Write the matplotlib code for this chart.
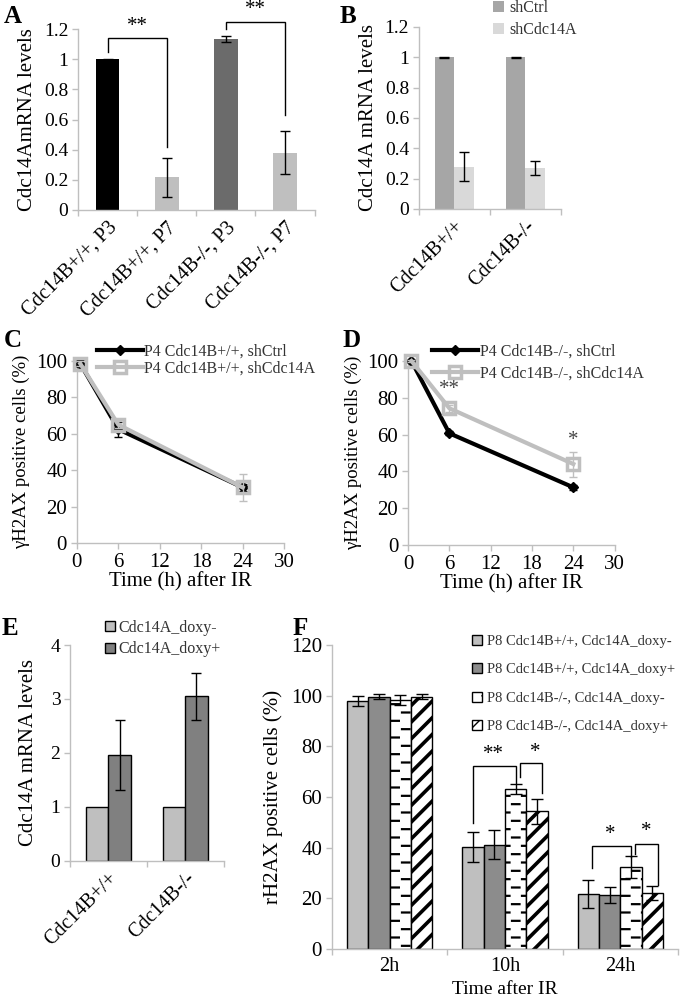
import warnings
warnings.filterwarnings('ignore')
import numpy as np
import matplotlib
matplotlib.use('Agg')
import matplotlib.pyplot as plt
import matplotlib.hatch as mhatch
from matplotlib.path import Path
from matplotlib.lines import Line2D

plt.rcParams['font.family'] = ['Liberation Serif', 'DejaVu Serif']
plt.rcParams['hatch.color'] = 'black'

# ---------------- data ----------------
a_cats = ['Cdc14B+/+, P3', 'Cdc14B+/+, P7', 'Cdc14B-/-, P3', 'Cdc14B-/-, P7']
a_vals = [1.0, 0.217, 1.131, 0.38]
a_err = [0.003, 0.13, 0.02, 0.143]
a_colors = ['#000000', '#bfbfbf', '#6b6b6b', '#bfbfbf']

b_cats = ['Cdc14B+/+', 'Cdc14B-/-']
b_shctrl = [1.0, 1.0]
b_shctrl_err = [0.002, 0.002]
b_shcdc = [0.28, 0.269]
b_shcdc_err = [0.096, 0.046]

c_time = [0.5, 6, 24]
c_ctrl = [98.5, 62.5, 30.5]
c_ctrl_err = [2.0, 4.0, 2.0]
c_sh = [98.5, 65.0, 30.5]
c_sh_err = [1.5, 2.0, 7.3]

d_time = [0.5, 6, 24]
d_ctrl = [100, 60.7, 31.3]
d_ctrl_err = [0.5, 1.0, 1.5]
d_sh = [100, 74.3, 44.0]
d_sh_err = [0.5, 2.0, 6.8]

e_cats = ['Cdc14B+/+', 'Cdc14B-/-']
e_minus = [1.0, 1.0]
e_plus = [1.96, 3.05]
e_plus_err = [0.645, 0.43]

f_cats = ['2h', '10h', '24h']
f_labels = ['P8 Cdc14B+/+, Cdc14A_doxy-', 'P8 Cdc14B+/+, Cdc14A_doxy+',
            'P8 Cdc14B-/-, Cdc14A_doxy-', 'P8 Cdc14B-/-, Cdc14A_doxy+']
f_s1 = [97.8, 40.2, 21.7]
f_s1_err = [2.0, 6.0, 5.4]
f_s2 = [99.6, 41.1, 21.2]
f_s2_err = [1.1, 5.7, 3.2]
f_s3 = [98.2, 63.1, 32.3]
f_s3_err = [2.0, 2.1, 4.3]
f_s4 = [99.6, 54.3, 22.1]
f_s4_err = [1.0, 4.9, 2.8]


# ---------------- custom dash hatch ----------------
class DashHatch(mhatch.HatchPatternBase):
    def __init__(self, hatch, density):
        self.segs = []
        if hatch.count('d'):
            rows, per_row = 12, 5
            for r in range(rows):
                y = (r + 0.5) / rows
                off = 0.0 if r % 2 == 0 else 0.5 / per_row
                for k in range(per_row):
                    x0 = k / per_row + off + 0.02
                    self.segs.append((x0, y, x0 + 0.075, y))
        self.num_vertices = len(self.segs) * 2

    def set_vertices_and_codes(self, vertices, codes):
        for i, (x0, y0, x1, y1) in enumerate(self.segs):
            vertices[2 * i] = (x0, y0)
            vertices[2 * i + 1] = (x1, y1)
            codes[2 * i] = Path.MOVETO
            codes[2 * i + 1] = Path.LINETO


mhatch._hatch_types.append(DashHatch)

SP = '#bfbfbf'


def style(ax, fs):
    for s in ['top', 'right']:
        ax.spines[s].set_visible(False)
    for s in ['left', 'bottom']:
        ax.spines[s].set_color(SP)
        ax.spines[s].set_linewidth(1.0)
    ax.tick_params(which='major', direction='out', length=4, width=1,
                   color=SP, labelsize=fs, pad=3)


def cat_axis(ax, cats, fs, rot, pad=6):
    n = len(cats)
    ax.set_xlim(-0.5, n - 0.5)
    ax.set_xticks(np.arange(n + 1) - 0.5)
    ax.set_xticklabels([''] * (n + 1))
    ax.set_xticks(np.arange(n), minor=True)
    if rot:
        ax.set_xticklabels(cats, minor=True, rotation=rot, ha='right',
                           rotation_mode='anchor', fontsize=fs)
    else:
        ax.set_xticklabels(cats, minor=True, fontsize=fs)
    ax.tick_params(axis='x', which='minor', length=0, pad=pad)


def bracket(ax, x0, y0, ytop, x1, y1, lw=1.0):
    ax.plot([x0, x0, x1, x1], [y0, ytop, ytop, y1], color='black', lw=lw,
            clip_on=False, solid_joinstyle='miter')


def fmt(v):
    return f'{v:g}'


fig = plt.figure(figsize=(6.8, 9.98), dpi=100)

# ---------------- A ----------------
axA = fig.add_axes([0.1147, 0.7896, 0.348, 0.1813])
style(axA, 14)
xa = np.arange(len(a_cats))
axA.bar(xa, a_vals, width=0.4, color=a_colors, zorder=2)
axA.errorbar(xa, a_vals, yerr=a_err, fmt='none', ecolor='black', elinewidth=1,
             capsize=3.5, capthick=1, zorder=3)
cat_axis(axA, a_cats, 14.5, 45)
axA.set_ylim(0, 1.2)
axA.set_yticks(np.arange(0, 1.21, 0.2))
axA.set_yticklabels([fmt(round(v, 1)) for v in np.arange(0, 1.21, 0.2)])
axA.set_ylabel('Cdc14AmRNA levels', fontsize=15, labelpad=5)
bracket(axA, 0, 1.05, 1.14, 1, 0.42)
bracket(axA, 2, 1.2, 1.25, 3, 0.63)
axA.text(0.5, 1.155, '**', ha='center', va='bottom', fontsize=15, clip_on=False)
axA.text(2.5, 1.265, '**', ha='center', va='bottom', fontsize=15, clip_on=False)

# ---------------- B ----------------
axB = fig.add_axes([0.616, 0.7906, 0.209, 0.1824])
style(axB, 14)
xb = np.arange(len(b_cats))
w = 0.28
axB.bar(xb - w / 2, b_shctrl, width=w, color='#a6a6a6', label='shCtrl', zorder=2)
axB.bar(xb + w / 2, b_shcdc, width=w, color='#d9d9d9', label='shCdc14A', zorder=2)
axB.errorbar(xb - w / 2, b_shctrl, yerr=b_shctrl_err, fmt='none', ecolor='black',
             elinewidth=1, capsize=3.5, zorder=3)
axB.errorbar(xb + w / 2, b_shcdc, yerr=b_shcdc_err, fmt='none', ecolor='black',
             elinewidth=1, capsize=3.5, zorder=3)
cat_axis(axB, b_cats, 14.5, 45)
axB.set_ylim(0, 1.2)
axB.set_yticks(np.arange(0, 1.21, 0.2))
axB.set_yticklabels([fmt(round(v, 1)) for v in np.arange(0, 1.21, 0.2)])
axB.set_ylabel('Cdc14A mRNA levels', fontsize=15, labelpad=5)
axB.legend(loc='upper left', bbox_to_anchor=(0.725, 1.0), bbox_transform=fig.transFigure,
           frameon=False, fontsize=11.5, handlelength=0.7, handleheight=0.7,
           handletextpad=0.3, labelspacing=0.4, borderpad=0, borderaxespad=0,
           labelcolor='#333333')


# ---------------- C & D ----------------
def line_panel(rect, t, ctrl, ctrl_err, sh, sh_err, labels, leg_anchor, lspace):
    ax = fig.add_axes(rect)
    style(ax, 15)
    ax.errorbar(t, ctrl, yerr=ctrl_err, fmt='none', ecolor='black', elinewidth=1,
                capsize=3, zorder=3, clip_on=False)
    ax.plot(t, ctrl, color='black', lw=3, marker='D', ms=5.5, mfc='black', mec='black',
            zorder=3, clip_on=False)
    ax.errorbar(t, sh, yerr=sh_err, fmt='none', ecolor='#bfbfbf', elinewidth=1,
                capsize=3, zorder=4, clip_on=False)
    ax.plot(t, sh, color='#bfbfbf', lw=3, marker='s', ms=9, mfc='none', mec='#bfbfbf',
            mew=2.5, zorder=4, clip_on=False)
    ax.set_xlim(0, 30)
    ax.set_ylim(0, 100)
    ax.set_xticks(np.arange(0, 31, 6))
    ax.set_yticks(np.arange(0, 101, 20))
    ax.set_xlabel('Time (h) after IR', fontsize=15, labelpad=0)
    ax.set_ylabel('γH2AX positive cells (%)', fontsize=13.5, labelpad=4)
    handles = [Line2D([], [], color='black', lw=3, marker='D', ms=5.5),
               Line2D([], [], color='#bfbfbf', lw=3, marker='s', ms=8, mfc='none',
                      mec='#bfbfbf', mew=2.5)]
    ax.legend(handles, labels, loc='upper left', bbox_to_anchor=leg_anchor,
              bbox_transform=fig.transFigure, frameon=False, fontsize=11.5,
              handlelength=2.9, handletextpad=0.1, labelspacing=lspace, borderpad=0,
              borderaxespad=0, labelcolor='#333333')
    return ax


axC = line_panel([0.113, 0.4559, 0.305, 0.1824], c_time, c_ctrl, c_ctrl_err, c_sh, c_sh_err,
                 ['P4 Cdc14B+/+, shCtrl', 'P4 Cdc14B+/+, shCdc14A'], (0.142, 0.656), 0.08)
axD = line_panel([0.6, 0.4539, 0.304, 0.1844], d_time, d_ctrl, d_ctrl_err, d_sh, d_sh_err,
                 ['P4 Cdc14B-/-, shCtrl', 'P4 Cdc14B-/-, shCdc14A'], (0.635, 0.656), 0.4)
axD.text(6, 79.5, '**', ha='center', va='bottom', fontsize=15, color='#444444')
axD.text(24, 51.5, '*', ha='center', va='bottom', fontsize=15, color='#444444')

# ---------------- E ----------------
axE = fig.add_axes([0.103, 0.1373, 0.226, 0.2164])
style(axE, 14)
xe = np.arange(len(e_cats))
w = 0.29
axE.bar(xe - w / 2, e_minus, width=w, color='#bfbfbf', edgecolor='black', lw=1,
        label='Cdc14A_doxy-', zorder=2)
axE.bar(xe + w / 2, e_plus, width=w, color='#808080', edgecolor='black', lw=1,
        label='Cdc14A_doxy+', zorder=2)
axE.errorbar(xe + w / 2, e_plus, yerr=e_plus_err, fmt='none', ecolor='black',
             elinewidth=1, capsize=3.5, zorder=3)
cat_axis(axE, e_cats, 14.5, 45)
axE.set_ylim(0, 4)
axE.set_yticks(np.arange(0, 5, 1))
axE.set_ylabel('Cdc14A mRNA levels', fontsize=15, labelpad=9)
axE.legend(loc='upper left', bbox_to_anchor=(0.155, 0.379), bbox_transform=fig.transFigure,
           frameon=False, fontsize=11.5, handlelength=0.6, handleheight=0.6,
           handletextpad=0.2, labelspacing=0.35, borderpad=0, borderaxespad=0,
           labelcolor='#333333')

# ---------------- F ----------------
axF = fig.add_axes([0.488, 0.0491, 0.509, 0.3046])
style(axF, 15)
xf = np.arange(len(f_cats))
w = 0.185
series = [(f_s1, f_s1_err, '#bfbfbf', None, 1.0),
          (f_s2, f_s2_err, '#8c8c8c', None, 1.0),
          (f_s3, f_s3_err, 'white', 'd', 1.6),
          (f_s4, f_s4_err, 'white', '//', 2.6)]
for i, ((vals, errs, col, hat, hlw), lab) in enumerate(zip(series, f_labels)):
    pos = xf + (i - 1.5) * w
    with plt.rc_context({'hatch.linewidth': hlw}):
        bars = axF.bar(pos, vals, width=w, color=col, edgecolor='black', lw=1,
                       hatch=hat, label=lab, zorder=2)
        for p in bars.patches:
            if hasattr(p, 'set_hatch_linewidth'):
                p.set_hatch_linewidth(hlw)
    axF.errorbar(pos, vals, yerr=errs, fmt='none', ecolor='black', elinewidth=1,
                 capsize=4, capthick=1, zorder=3)
cat_axis(axF, f_cats, 14.5, 0, pad=6)
axF.set_ylim(0, 120)
axF.set_yticks(np.arange(0, 121, 20))
axF.set_ylabel('rH2AX positive cells (%)', fontsize=15, labelpad=6)
axF.set_xlabel('Time after IR', fontsize=14)
axF.xaxis.set_label_coords(0.5, -0.106)
axF.xaxis.label.set_verticalalignment('top')
bracket(axF, 0.72, 49.7, 72.3, 1.096, 65.5)
bracket(axF, 1.13, 68.0, 73.3, 1.324, 61.5)
bracket(axF, 1.752, 31.9, 40.5, 2.09, 36.5)
bracket(axF, 2.128, 37.5, 41.5, 2.33, 25.4)
axF.text(0.899, 73.0, '**', ha='center', va='bottom', fontsize=15)
axF.text(1.26, 74.0, '*', ha='center', va='bottom', fontsize=15)
axF.text(1.911, 41.5, '*', ha='center', va='bottom', fontsize=15)
axF.text(2.229, 42.5, '*', ha='center', va='bottom', fontsize=15)
axF.legend(loc='upper left', bbox_to_anchor=(0.694, 0.364), bbox_transform=fig.transFigure,
           frameon=False, fontsize=10.5, handlelength=0.7, handleheight=0.7,
           handletextpad=0.3, labelspacing=1.05, borderpad=0, borderaxespad=0,
           labelcolor='#333333')

# ---------------- panel letters ----------------
for lx, ly, let in [(0.006, 0.983, 'A'), (0.500, 0.983, 'B'), (0.006, 0.659, 'C'),
                    (0.503, 0.659, 'D'), (0.003, 0.370, 'E'), (0.430, 0.370, 'F')]:
    fig.text(lx, ly, let, fontsize=18, fontweight='bold', va='center', ha='left')

fig.savefig('out.png', dpi=100)
